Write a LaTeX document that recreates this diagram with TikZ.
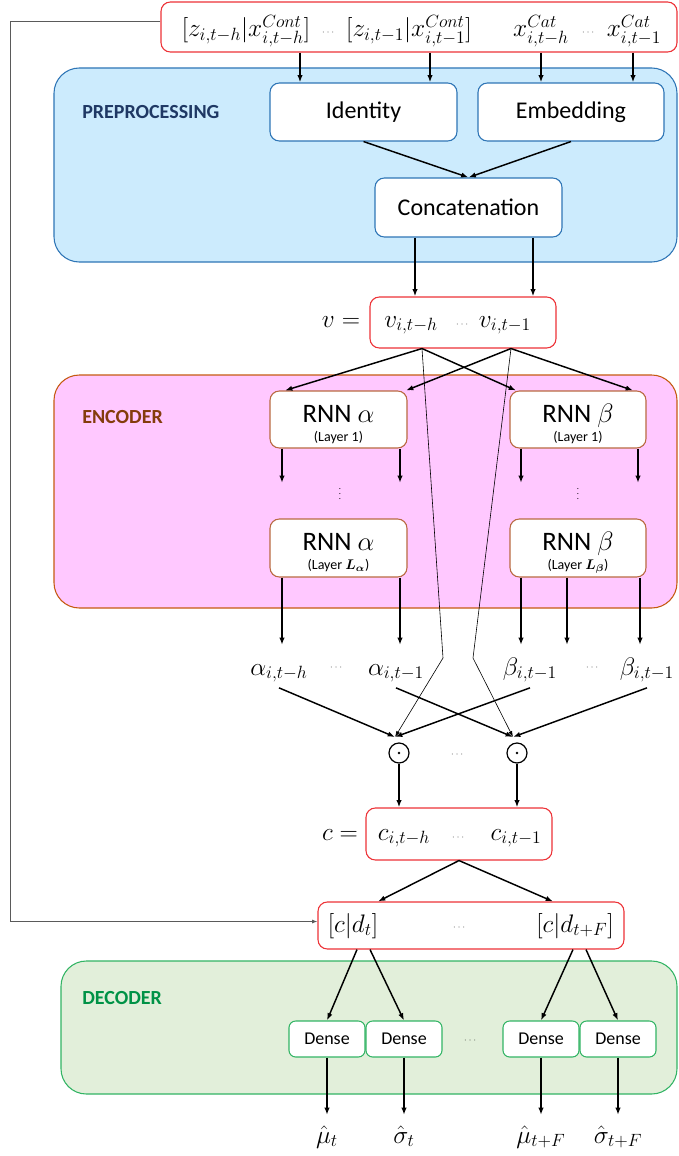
\RequirePackage{fix-cm}
\documentclass[tikz,border=0pt]{standalone}
\usepackage{amsmath}
\usepackage{fontspec}
\setmainfont{Carlito}
\usetikzlibrary{arrows.meta}
\definecolor{redb}{RGB}{237,50,55}
\definecolor{prefill}{RGB}{204,235,253}
\definecolor{preline}{RGB}{46,117,182}
\definecolor{navy}{RGB}{31,56,100}
\definecolor{encfill}{RGB}{255,200,255}
\definecolor{encline}{RGB}{197,90,17}
\definecolor{enctext}{RGB}{132,60,12}
\definecolor{rnnline}{RGB}{185,105,65}
\definecolor{decfill}{RGB}{226,239,218}
\definecolor{decline}{RGB}{50,180,100}
\definecolor{dectext}{RGB}{0,146,70}
\definecolor{fbgray}{RGB}{90,90,90}
\begin{document}
\begin{tikzpicture}[x=0.75pt,y=-0.75pt,
  arr/.style={-{Latex[length=5.5pt,width=4pt]},line width=1.1pt},
  thinarr/.style={-{Latex[length=4.5pt,width=3pt]},line width=0.45pt},
  fbarr/.style={-{Latex[length=4pt,width=3pt]},line width=0.7pt,draw=fbgray},
  redbox/.style={draw=redb,line width=0.8pt,rounded corners=7pt,fill=white,inner sep=0pt},
  grp/.style={rounded corners=19pt,line width=0.8pt,inner sep=0pt},
  ibox/.style={rounded corners=7pt,fill=white,line width=0.8pt,inner sep=0pt},
  mlbl/.style={font=\fontsize{19}{22}\selectfont,anchor=base,inner sep=0pt},
  sdots/.style={font=\fontsize{6}{7}\selectfont,inner sep=0pt},
  grplbl/.style={font=\fontsize{15}{18}\selectfont\bfseries,anchor=west,inner sep=0pt},
  boxtxt/.style={font=\fontsize{18}{20}\selectfont},
  rnnt/.style={font=\fontsize{20}{22}\selectfont,anchor=base,inner sep=0pt},
  layt/.style={font=\fontsize{10.5}{12}\selectfont,anchor=base,inner sep=0pt},
  densebox/.style={ibox,draw=decline,rounded corners=5pt,minimum width=57pt,minimum height=27pt,font=\fontsize{13.5}{15}\selectfont},
  ]
\useasboundingbox (0,0) rectangle (678,1156);

% helper x positions
\foreach \x in {10,282,285,300,357,370,378,400,406,415,422,430,511,516,521,533,541,553,567,573,586,633,638,640}
  {\coordinate (c\x) at (\x,0);}

% ---------- input box ----------
\node[redbox,minimum width=387pt,minimum height=37.5pt] (inp) at (419,27) {};
\node[mlbl] (z1) at (246,37) {$[z_{i,t-h}|x^{Cont}_{i,t-h}]$};
\node[sdots] (dz) at (329,33) {$\cdots$};
\node[mlbl] (z2) at (409,37) {$[z_{i,t-1}|x^{Cont}_{i,t-1}]$};
\node[mlbl] (xc1) at (541,37) {$x^{Cat}_{i,t-h}$};
\node[sdots] (dx) at (589,33) {$\cdots$};
\node[mlbl] (xc2) at (634,37) {$x^{Cat}_{i,t-1}$};

% ---------- preprocessing ----------
\node[grp,fill=prefill,draw=preline,minimum width=467.25pt,minimum height=145.5pt] (pre) at (365.5,165) {};
\node[grplbl,text=navy] (prel) at (82,112) {PREPROCESSING};
\node[ibox,draw=preline,minimum width=140.25pt,minimum height=43.5pt,boxtxt] (id) at (363.5,112) {Identity};
\node[ibox,draw=preline,minimum width=139.5pt,minimum height=43.5pt,boxtxt] (emb) at (571,112) {Embedding};
\node[ibox,draw=preline,minimum width=140.25pt,minimum height=44.25pt,boxtxt] (cc) at (468.5,207.5) {Concatenation};

\draw[arr] (inp.south -| c300) -- (id.north -| c300);
\draw[arr] (inp.south -| c430) -- (id.north -| c430);
\draw[arr] (inp.south -| c541) -- (emb.north -| c541);
\draw[arr] (inp.south -| c633) -- (emb.north -| c633);
\draw[arr] (id.south) -- (cc.north);
\draw[arr] (emb.south) -- (cc.north);

% ---------- v box ----------
\node[redbox,minimum width=139.5pt,minimum height=38.25pt] (v) at (463,322.5) {};
\node[mlbl] (veq) at (341,327) {$v=$};
\node[mlbl] (v1) at (411,327) {$v_{i,t-h}$};
\node[sdots] (dv) at (463,325) {$\cdots$};
\node[mlbl] (v2) at (505,327) {$v_{i,t-1}$};
\draw[arr] (cc.south -| c415) -- (v.north -| c415);
\draw[arr] (cc.south -| c533) -- (v.north -| c533);

% ---------- encoder ----------
\node[grp,fill=encfill,draw=encline,minimum width=467.25pt,minimum height=174.75pt] (enc) at (365.5,491.5) {};
\node[grplbl,text=enctext] (encl) at (82,417) {ENCODER};

\node[ibox,draw=rnnline,minimum width=102.75pt,minimum height=42.75pt] (a1) at (338.5,419.5) {};
\node[rnnt] (a1t) at (338.5,422) {RNN $\alpha$};
\node[layt] (a1l) at (338.5,441) {(Layer 1)};
\node[ibox,draw=rnnline,minimum width=102pt,minimum height=42.75pt] (b1) at (578,419.5) {};
\node[rnnt] (b1t) at (578,422) {RNN $\beta$};
\node[layt] (b1l) at (578,441) {(Layer 1)};

\node[ibox,draw=rnnline,minimum width=102.75pt,minimum height=43.5pt] (aL) at (338.5,548) {};
\node[rnnt] (aLt) at (338.5,550) {RNN $\alpha$};
\node[layt] (aLl) at (338.5,569) {(Layer $\boldsymbol{L_\alpha}$)};
\node[ibox,draw=rnnline,minimum width=102pt,minimum height=43.5pt] (bL) at (578,548) {};
\node[rnnt] (bLt) at (578,550) {RNN $\beta$};
\node[layt] (bLl) at (578,569) {(Layer $\boldsymbol{L_\beta}$)};

\node[font=\fontsize{6.5}{7}\selectfont,inner sep=0pt] (vd1) at (340,490) {$\vdots$};
\node[font=\fontsize{6.5}{7}\selectfont,inner sep=0pt] (vd2) at (578,490) {$\vdots$};

% v -> RNN layer 1
\draw[arr] (v.south -| c422) -- (a1.north -| c285);
\draw[arr] (v.south -| c422) -- (b1.north -| c516);
\draw[arr] (v.south -| c511) -- (a1.north -| c406);
\draw[arr] (v.south -| c511) -- (b1.north -| c633);

% layer 1 -> dots
\coordinate (e1) at (282,483);
\coordinate (e2) at (400,483);
\coordinate (e3) at (521,483);
\coordinate (e4) at (638,483);
\draw[arr] (a1.south -| e1) -- (e1);
\draw[arr] (a1.south -| e2) -- (e2);
\draw[arr] (b1.south -| e3) -- (e3);
\draw[arr] (b1.south -| e4) -- (e4);

% ---------- alpha / beta ----------
\node[mlbl] (al1) at (279,675) {$\alpha_{i,t-h}$};
\node[sdots] (dal) at (337,668) {$\cdots$};
\node[mlbl] (al2) at (396,675) {$\alpha_{i,t-1}$};
\node[mlbl] (be1) at (530,675) {$\beta_{i,t-1}$};
\node[sdots] (dbe) at (593,668) {$\cdots$};
\node[mlbl] (be2) at (647,675) {$\beta_{i,t-1}$};

\coordinate (f1) at (282,645);
\coordinate (f2) at (400,645);
\coordinate (f3) at (521,645);
\coordinate (f4) at (567,645);
\coordinate (f5) at (640,645);
\draw[arr] (aL.south -| f1) -- (f1);
\draw[arr] (aL.south -| f2) -- (f2);
\draw[arr] (bL.south -| f3) -- (f3);
\draw[arr] (bL.south -| f4) -- (f4);
\draw[arr] (bL.south -| f5) -- (f5);

% ---------- odot ----------
\node[circle,draw,line width=0.9pt,minimum size=15pt,inner sep=0pt] (ot1) at (399,753) {};
\fill (ot1.center) circle (1.1pt);
\node[circle,draw,line width=0.9pt,minimum size=15pt,inner sep=0pt] (ot2) at (517,753) {};
\fill (ot2.center) circle (1.1pt);
\node[sdots] (dot) at (458,755) {$\cdots$};

\coordinate (t1) at (395,737);
\coordinate (t2) at (513,737);
\coordinate (k1) at (443,658);
\coordinate (k2) at (473,658);
\draw[thinarr] (v.south -| c422) -- (k1) -- (t1);
\draw[thinarr] (v.south -| c511) -- (k2) -- (t2);
\draw[arr] ([yshift=-4pt]al1.south) -- (t1);
\draw[arr] ([yshift=-4pt]be1.south) -- (t1);
\draw[arr] ([yshift=-4pt]al2.south) -- (t2);
\draw[arr] ([yshift=-4pt]be2.south) -- (t2);

% ---------- c box ----------
\node[redbox,minimum width=139.5pt,minimum height=39pt] (c) at (459,834) {};
\node[mlbl] (ceq) at (340,840) {$c=$};
\node[mlbl] (cv1) at (404,840) {$c_{i,t-h}$};
\node[sdots] (dc) at (459,838) {$\cdots$};
\node[mlbl] (cv2) at (516,840) {$c_{i,t-1}$};
\draw[arr] (ot1.south) -- (c.north -| ot1);
\draw[arr] (ot2.south) -- (c.north -| ot2);

% ---------- [c|d] box ----------
\node[redbox,minimum width=229.5pt,minimum height=35.25pt] (d) at (471,925.5) {};
\node[mlbl] (cd1) at (353,932) {$[c|d_t]$};
\node[sdots] (dd) at (460,928) {$\cdots$};
\node[mlbl] (cd2) at (575,932) {$[c|d_{t+F}]$};
\draw[arr] (c.south) -- (d.north -| c378);
\draw[arr] (c.south) -- (d.north -| c553);

% feedback line
\draw[fbarr] ([yshift=4.5pt]inp.west) -- ([yshift=4.5pt]inp.west -| c10) |- ([yshift=3pt]d.west);

% ---------- decoder ----------
\node[grp,fill=decfill,draw=decline,minimum width=462pt,minimum height=99.75pt] (dec) at (369,1027.5) {};
\node[grplbl,text=dectext] (decl) at (82,998) {DECODER};
\node[densebox] (dn1) at (327,1039) {Dense};
\node[densebox] (dn2) at (404,1039) {Dense};
\node[sdots] (ddn) at (471,1041) {$\cdots$};
\node[densebox] (dn3) at (541,1039) {Dense};
\node[densebox] (dn4) at (618,1039) {Dense};

\draw[arr] (d.south -| c357) -- (dn1.north);
\draw[arr] (d.south -| c370) -- (dn2.north);
\draw[arr] (d.south -| c573) -- (dn3.north);
\draw[arr] (d.south -| c586) -- (dn4.north);

\coordinate (g1) at (327,1115);
\coordinate (g2) at (404,1115);
\coordinate (g3) at (541,1115);
\coordinate (g4) at (618,1115);
\draw[arr] (dn1.south) -- (g1);
\draw[arr] (dn2.south) -- (g2);
\draw[arr] (dn3.south) -- (g3);
\draw[arr] (dn4.south) -- (g4);

\node[mlbl] (mu1) at (327,1143) {$\hat{\mu}_t$};
\node[mlbl] (sg1) at (404,1143) {$\hat{\sigma}_t$};
\node[mlbl] (mu2) at (541,1143) {$\hat{\mu}_{t+F}$};
\node[mlbl] (sg2) at (618,1143) {$\hat{\sigma}_{t+F}$};
\end{tikzpicture}
\end{document}
